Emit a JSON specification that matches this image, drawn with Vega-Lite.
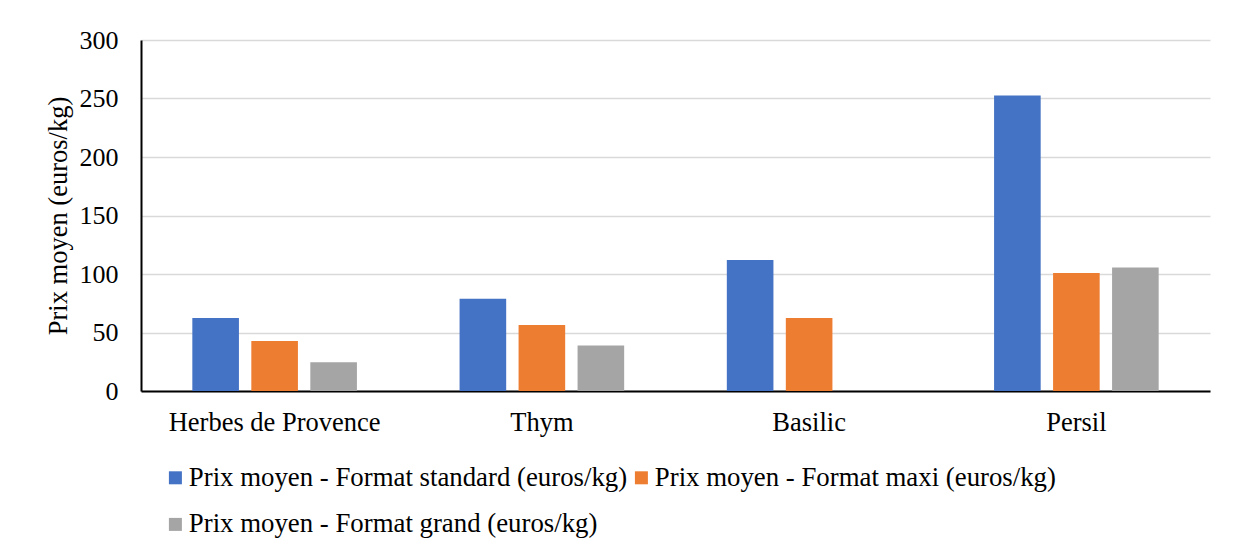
{
  "$schema": "https://vega.github.io/schema/vega-lite/v6.json",
  "autosize": {"type": "none"},
  "padding": {"left": 141, "top": 40, "right": 27, "bottom": 161},
  "width": 1069,
  "height": 351,
  "background": "white",
  "config": {
    "font": "Liberation Serif",
    "view": {"stroke": null},
    "axis": {"labelFont": "Liberation Serif", "titleFont": "Liberation Serif"},
    "legend": {"labelFont": "Liberation Serif", "titleFont": "Liberation Serif"}
  },
  "data": {
    "values": [
      {"herbe": "Herbes de Provence", "serie": "Prix moyen - Format standard (euros/kg)", "prix": 62.5},
      {"herbe": "Herbes de Provence", "serie": "Prix moyen - Format maxi (euros/kg)", "prix": 42.8},
      {"herbe": "Herbes de Provence", "serie": "Prix moyen - Format grand (euros/kg)", "prix": 24.6},
      {"herbe": "Thym", "serie": "Prix moyen - Format standard (euros/kg)", "prix": 78.8},
      {"herbe": "Thym", "serie": "Prix moyen - Format maxi (euros/kg)", "prix": 56.5},
      {"herbe": "Thym", "serie": "Prix moyen - Format grand (euros/kg)", "prix": 38.8},
      {"herbe": "Basilic", "serie": "Prix moyen - Format standard (euros/kg)", "prix": 111.9},
      {"herbe": "Basilic", "serie": "Prix moyen - Format maxi (euros/kg)", "prix": 62.5},
      {"herbe": "Persil", "serie": "Prix moyen - Format standard (euros/kg)", "prix": 252.6},
      {"herbe": "Persil", "serie": "Prix moyen - Format maxi (euros/kg)", "prix": 100.8},
      {"herbe": "Persil", "serie": "Prix moyen - Format grand (euros/kg)", "prix": 105.6}
    ]
  },
  "mark": {"type": "bar"},
  "encoding": {
    "x": {
      "field": "herbe",
      "type": "nominal",
      "sort": ["Herbes de Provence", "Thym", "Basilic", "Persil"],
      "scale": {"paddingInner": 0, "paddingOuter": 0},
      "axis": {
        "title": null,
        "labelAngle": 0,
        "labelFont": "Liberation Serif",
        "labelFontSize": 26.5,
        "labelColor": "black",
        "labelLimit": 500,
        "labelPadding": 18,
        "ticks": false,
        "domain": true,
        "domainColor": "black",
        "domainWidth": 2,
        "grid": false
      }
    },
    "xOffset": {
      "field": "serie",
      "type": "nominal",
      "sort": ["Prix moyen - Format standard (euros/kg)", "Prix moyen - Format maxi (euros/kg)", "Prix moyen - Format grand (euros/kg)"],
      "scale": {"paddingInner": 0.21, "paddingOuter": 0.87}
    },
    "y": {
      "field": "prix",
      "type": "quantitative",
      "scale": {"domain": [0, 300], "nice": false},
      "axis": {
        "title": "Prix moyen (euros/kg)",
        "titleFont": "Liberation Serif",
        "titleFontSize": 26.5,
        "titleFontWeight": "normal",
        "titleColor": "black",
        "titlePadding": 7,
        "values": [0, 50, 100, 150, 200, 250, 300],
        "labelFont": "Liberation Serif",
        "labelFontSize": 26,
        "labelColor": "black",
        "labelPadding": 23,
        "ticks": false,
        "domain": true,
        "domainColor": "black",
        "domainWidth": 2,
        "grid": true,
        "gridColor": "#d9d9d9",
        "gridWidth": 1.5
      }
    },
    "color": {
      "field": "serie",
      "type": "nominal",
      "scale": {
        "domain": ["Prix moyen - Format standard (euros/kg)", "Prix moyen - Format maxi (euros/kg)", "Prix moyen - Format grand (euros/kg)"],
        "range": ["#4472C4", "#ED7D31", "#A5A5A5"]
      },
      "legend": {
        "title": null,
        "orient": "none",
        "legendX": 21,
        "legendY": 424,
        "direction": "horizontal",
        "columns": 2,
        "symbolType": "square",
        "symbolSize": 169,
        "symbolStrokeWidth": 0,
        "labelFont": "Liberation Serif",
        "labelFontSize": 26.8,
        "labelColor": "black",
        "labelLimit": 700,
        "labelOffset": 0,
        "columnPadding": 0,
        "rowPadding": 19
      }
    }
  }
}
